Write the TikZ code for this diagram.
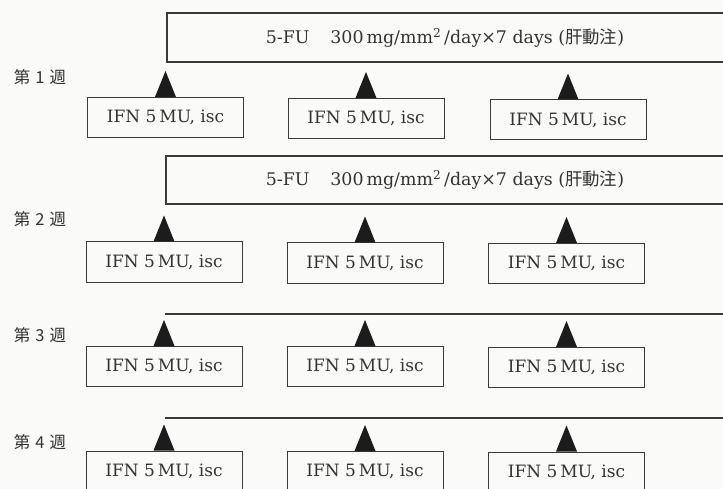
\documentclass[tikz,border=0pt]{standalone}
\usepackage{fontspec}
\setmainfont{DejaVu Serif}
\newfontfamily\cjk{Noto Sans CJK JP}
\definecolor{linegray}{HTML}{3A3A3A}
\definecolor{textgray}{HTML}{333333}
\definecolor{trifill}{HTML}{1C1C1C}
\definecolor{bg}{HTML}{FAFAF8}
\begin{document}
\begin{tikzpicture}[x=1pt,y=-1pt,
  ifn/.style={draw=linegray, line width=1pt, minimum width=156pt, minimum height=40pt,
    inner sep=0pt, text=textgray, font=\fontsize{17}{17}\selectfont},
  fubox/.style={draw=linegray, line width=1.8pt},
  weekline/.style={draw=linegray, line width=1.2pt},
  futext/.style={text=textgray, inner sep=0pt, font=\fontsize{17.4}{17.4}\selectfont},
  week/.style={text=textgray, inner sep=0pt, font=\cjk\fontsize{16.5}{16.5}\selectfont},
  tri/.style={fill=trifill}]
\fill[bg] (0,0) rectangle (723,489);
\useasboundingbox (0,0) rectangle (723,489);
\newcommand{\futxt}{5-FU\hspace{1.2em}300\,mg/mm\textsuperscript{2}\,/day×7 days ({\cjk 肝動注})}
\newcommand{\ifntxt}{IFN 5\,MU, isc}
\newcommand{\wk}[1]{第\hspace{0.3em}#1\hspace{0.3em}週}
% week labels
\node[week] (w1) at (40,77) {\wk{1}};
\node[week] (w2) at (40,219) {\wk{2}};
\node[week] (w3) at (40,335) {\wk{3}};
\node[week] (w4) at (40,442) {\wk{4}};
% 5-FU boxes (open to the right)
\coordinate (f1a) at (723,13); \coordinate (f1b) at (167,13);
\coordinate (f1c) at (167,62); \coordinate (f1d) at (723,62);
\draw[fubox] (f1a) -- (f1b) -- (f1c) -- (f1d);
\node[futext] (fu1) at (445,38) {\futxt};
\coordinate (f2a) at (723,156); \coordinate (f2b) at (166,156);
\coordinate (f2c) at (166,204); \coordinate (f2d) at (723,204);
\draw[fubox] (f2a) -- (f2b) -- (f2c) -- (f2d);
\node[futext] (fu2) at (445,180) {\futxt};
% lines weeks 3 and 4
\coordinate (l3a) at (165,314); \coordinate (l3b) at (723,314);
\draw[weekline] (l3a) -- (l3b);
\coordinate (l4a) at (165,418); \coordinate (l4b) at (723,418);
\draw[weekline] (l4a) -- (l4b);
% IFN boxes
\node[ifn] (b11) at (165.5,117.5) {\ifntxt};
\node[ifn] (b12) at (366,118.5) {\ifntxt};
\node[ifn] (b13) at (568,120) {\ifntxt};
\node[ifn] (b21) at (164,262) {\ifntxt};
\node[ifn] (b22) at (365,263) {\ifntxt};
\node[ifn] (b23) at (566.5,263.5) {\ifntxt};
\node[ifn] (b31) at (164,366.5) {\ifntxt};
\node[ifn] (b32) at (365,366.5) {\ifntxt};
\node[ifn] (b33) at (566.5,367.5) {\ifntxt};
\node[ifn] (b41) at (164,471) {\ifntxt};
\node[ifn] (b42) at (365,471.5) {\ifntxt};
\node[ifn] (b43) at (566.5,472) {\ifntxt};
% triangles
\foreach \b in {b11,b12,b13,b21,b22,b23,b31,b32,b33,b41,b42,b43}{
  \fill[tri] ([xshift=-10.5pt]\b.north) -- ([xshift=10.5pt]\b.north) -- ([yshift=26pt]\b.north) -- cycle;
}
\end{tikzpicture}
\end{document}
